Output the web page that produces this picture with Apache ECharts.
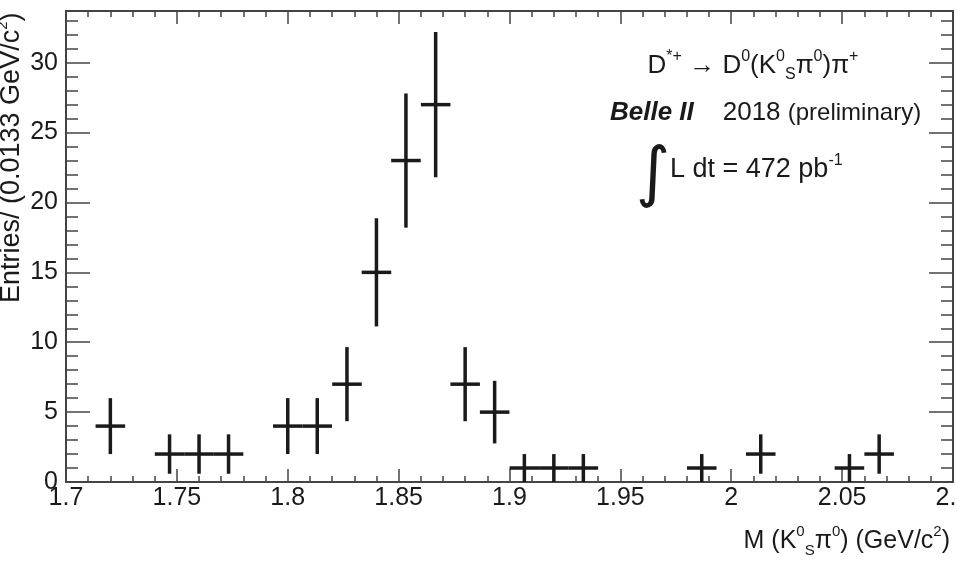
<!DOCTYPE html>
<html>
<head>
<meta charset="utf-8">
<script src="https://cdn.jsdelivr.net/npm/echarts@6/dist/echarts.min.js"></script>
<style>
  html, body { margin: 0; padding: 0; background: #fff; }
  #chart { width: 957px; height: 564px; }
</style>
</head>
<body>
<div id="chart"></div>
<script>
// bin centres of M(Ks pi0), GeV/c^2 (bin width 0.0133)
const binCenters = [1.72, 1.7467, 1.76, 1.7733, 1.80, 1.8133, 1.8267, 1.84, 1.8533, 1.8667,
  1.88, 1.8933, 1.9067, 1.92, 1.9333, 1.9867, 2.0133, 2.0533, 2.0667]
// entries per bin
const counts = [4, 2, 2, 2, 4, 4, 7, 15, 23, 27, 7, 5, 1, 1, 1, 1, 2, 1, 2]
// vertical error bars
const errors = [2, 1.41, 1.41, 1.41, 2, 2, 2.65, 3.87, 4.8, 5.2, 2.65, 2.24, 1, 1, 1, 1, 1.41, 1, 1.41]
const binWidth = 0.01333

const FONT = '"Liberation Sans", Arial, Helvetica, sans-serif'
const INK = '#1a1a1a'
const AXIS = '#444'

const points = binCenters.map((x, i) => [x, counts[i], errors[i]])

// draw one data point as a ROOT style cross
function renderPoint(params, api) {
  const x = api.value(0)
  const y = api.value(1)
  const e = api.value(2)
  const half = binWidth / 2
  const l = api.coord([x - half, y])
  const r = api.coord([x + half, y])
  const t = api.coord([x, y + e])
  const b = api.coord([x, Math.max(0, y - e)])
  const style = { stroke: INK, lineWidth: 3.5 }
  return {
    type: 'group',
    children: [
      { type: 'line', shape: { x1: l[0], y1: l[1], x2: r[0], y2: r[1] }, style },
      { type: 'line', shape: { x1: t[0], y1: t[1], x2: b[0], y2: b[1] }, style },
    ],
  }
}

const fmtX = v => String(+v.toFixed(2))

function xAxis(pos, labels) {
  return {
    type: 'value',
    position: pos,
    min: 1.7,
    max: 2.1,
    interval: 0.05,
    axisLine: { show: true, onZero: false, lineStyle: { color: AXIS, width: 2 } },
    axisTick: { show: true, inside: true, length: 13, lineStyle: { color: AXIS, width: 1.5 } },
    minorTick: { show: true, splitNumber: 5, length: 6, lineStyle: { color: AXIS, width: 1.5 } },
    splitLine: { show: false },
    axisLabel: {
      show: labels,
      formatter: fmtX,
      fontFamily: FONT,
      fontSize: 25,
      color: INK,
      margin: 4,
      showMinLabel: true,
      showMaxLabel: true,
      hideOverlap: false,
    },
  }
}

function yAxis(pos, labels) {
  return {
    type: 'value',
    position: pos,
    min: 0,
    max: 33.7,
    interval: 5,
    axisLine: { show: true, onZero: false, lineStyle: { color: AXIS, width: 2 } },
    axisTick: { show: true, inside: true, length: 24, lineStyle: { color: AXIS, width: 1.5 } },
    minorTick: { show: true, splitNumber: 5, length: 12, lineStyle: { color: AXIS, width: 1.5 } },
    splitLine: { show: false },
    axisLabel: {
      show: labels,
      fontFamily: FONT,
      fontSize: 25,
      color: INK,
      margin: 8,
      showMaxLabel: false,
    },
  }
}

const sup = { fontFamily: FONT, fontSize: 15, fill: INK, verticalAlign: 'top', lineHeight: 15 }
const sub = { fontFamily: FONT, fontSize: 15, fill: INK, verticalAlign: 'bottom', lineHeight: 15 }
const main = { fontFamily: FONT, fontSize: 25, fill: INK, verticalAlign: 'middle', lineHeight: 34 }

const option = {
  animation: false,
  backgroundColor: '#fff',
  grid: { left: 66, right: 4, top: 11, bottom: 82, outerBoundsMode: 'none', containLabel: false },
  xAxis: [xAxis('bottom', true), xAxis('top', false)],
  yAxis: [yAxis('left', true), yAxis('right', false)],
  series: [
    {
      type: 'custom',
      xAxisIndex: 0,
      yAxisIndex: 0,
      renderItem: renderPoint,
      encode: { x: 0, y: 1 },
      data: points,
      clip: true,
    },
  ],
  graphic: [
    {
      type: 'text',
      x: 753,
      y: 66,
      style: {
        text: '{m|D}{p|*+}{m| → D}{p|0}{m|(K}{p|0}{b|S}{m|π}{p|0}{m|)π}{p|+}',
        align: 'center',
        verticalAlign: 'middle',
        rich: {
          m: { ...main, fontSize: 26 },
          p: { ...sup, fontSize: 16, lineHeight: 16 },
          b: { ...sub, fontSize: 16, lineHeight: 16 },
        },
      },
    },
    {
      type: 'text',
      x: 610,
      y: 113,
      style: {
        text: '{bi|Belle II}{m|    2018 }{s|(preliminary)}',
        align: 'left',
        verticalAlign: 'middle',
        rich: {
          bi: { fontFamily: FONT, fontSize: 26, fontWeight: 'bold', fontStyle: 'italic', fill: INK },
          m: { fontFamily: FONT, fontSize: 26, fill: INK },
          s: { fontFamily: FONT, fontSize: 24, fill: INK },
        },
      },
    },
    {
      type: 'text',
      x: 653,
      y: 177,
      style: {
        text: '∫',
        font: '66px "DejaVu Sans", sans-serif',
        fill: INK,
        align: 'center',
        verticalAlign: 'middle',
      },
    },
    {
      type: 'text',
      x: 670,
      y: 170,
      style: {
        text: '{m|L dt = 472 pb}{p|-1}',
        align: 'left',
        verticalAlign: 'middle',
        rich: {
          m: { ...main, fontSize: 27 },
          p: { ...sup, fontSize: 16, lineHeight: 16 },
        },
      },
    },
    {
      type: 'text',
      x: 950,
      y: 541,
      style: {
        text: '{m|M (K}{p|0}{b|S}{m|π}{p|0}{m|) (GeV/c}{p|2}{m|)}',
        align: 'right',
        verticalAlign: 'middle',
        rich: { m: main, p: sup, b: sub },
      },
    },
    {
      type: 'text',
      x: 12,
      y: 303,
      rotation: Math.PI / 2,
      style: {
        text: '{m|Entries/ (0.0133 GeV/c}{p|2}{m|)}',
        align: 'left',
        verticalAlign: 'middle',
        rich: {
          m: { fontFamily: FONT, fontSize: 27, fill: INK, verticalAlign: 'middle', lineHeight: 34 },
          p: sup,
        },
      },
    },
  ],
}

const chart = echarts.init(document.getElementById('chart'))
chart.setOption(option)
</script>
</body>
</html>
